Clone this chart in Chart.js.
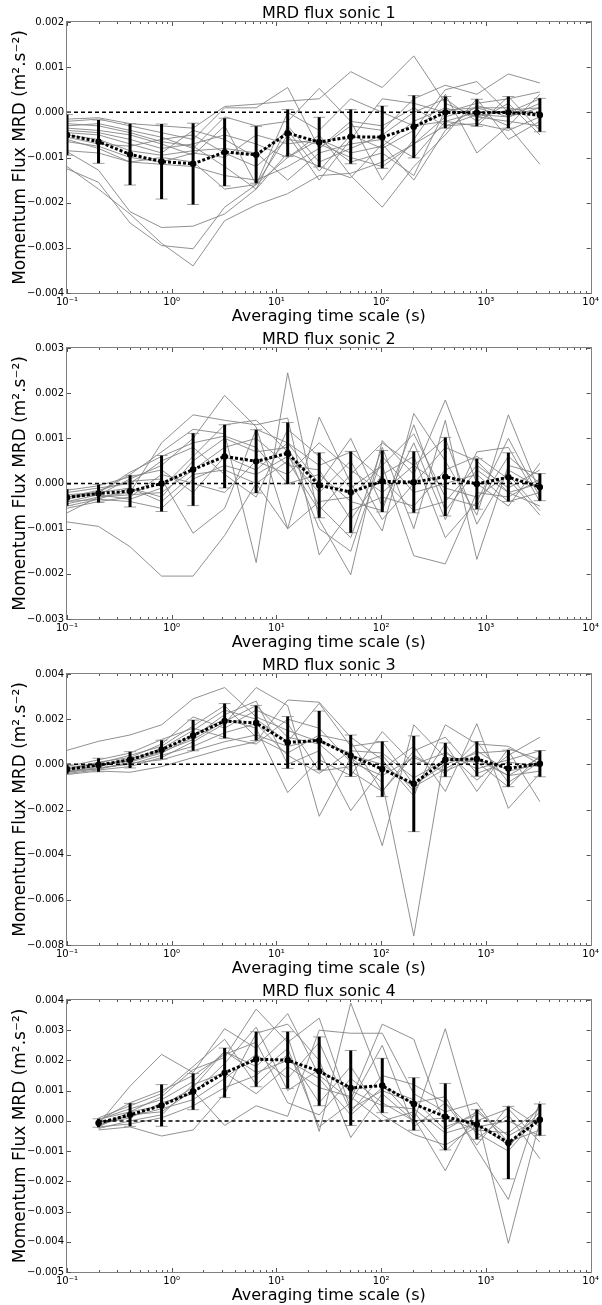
<!DOCTYPE html>
<html>
<head>
<meta charset="utf-8">
<title>MRD flux sonics</title>
<script src="https://cdn.jsdelivr.net/npm/chart.js@4.4.0/dist/chart.umd.min.js"></script>
<style>
  html, body { margin: 0; padding: 0; background: #fff; }
  canvas { display: block; }
</style>
</head>
<body>
<canvas id="sonic1" width="602" height="326"></canvas>
<canvas id="sonic2" width="602" height="326"></canvas>
<canvas id="sonic3" width="602" height="326"></canvas>
<canvas id="sonic4" width="602" height="327"></canvas>
<script>
// averaging time scales (s), shared by all four sonics
const timeScales = [0.1, 0.2, 0.4, 0.8, 1.6, 3.2, 6.4, 12.8, 25.6, 51.2, 102.4, 204.8, 409.6, 819.2, 1638.4, 3276.8];

const xTickValues = [0.1, 1, 10, 100, 1000, 10000];
const xTickLabels = ["10⁻¹", "10⁰", "10¹", "10²", "10³", "10⁴"];

// ---- sonic 1 ----
const yTicks1 = [-0.004, -0.003, -0.002, -0.001, 0, 0.001, 0.002];
const mean1 = [-0.0005, -0.00065, -0.00093, -0.00109, -0.00114, -0.00088, -0.00094, -0.00046, -0.00066, -0.00054, -0.00055, -0.00032, 0, -0.00001, 0, -0.00006];
const std1 = [0.00045, 0.00048, 0.00068, 0.00083, 0.0009, 0.00075, 0.00063, 0.00052, 0.00055, 0.0006, 0.00069, 0.00069, 0.00035, 0.0003, 0.00035, 0.00037];
const runs1 = [
  [-0.0012, -0.0017, -0.00225, -0.0029, -0.0034, -0.0024, -0.00205, -0.0018, -0.0014, -0.00135, -0.0011, -0.0007, -0.0003, -0.00025, -0.0004, -0.0001],
  [-0.00125, -0.00155, -0.00245, -0.00295, -0.00302, -0.0021, -0.0016, -0.001, -0.0006, -0.0009, -0.00075, -0.0002, 0.0001, -0.0001, -0.0002, -0.0003],
  [-0.00087, -0.00128, -0.0022, -0.00255, -0.00252, -0.00225, -0.0017, -0.0009, -0.0012, -0.00145, -0.0007, -0.0015, -0.0004, 0.00015, -0.00005, 0],
  [-0.00015, -0.00012, -0.00025, -0.0003, -0.00035, 0.00013, 0.00018, 0.00025, 0.0003, 0.0009, 0.00055, 0.00125, 0.0002, -0.0001, 0.00005, 0.0001],
  [-0.0002, -0.00015, -0.0003, -0.00045, -0.0006, 0.0001, 0.0001, 0.00055, -0.0008, -0.0003, -0.0004, 0.0003, 0.0006, 0.0004, 0.00085, 0.00065],
  [-0.0003, -0.00025, -0.0004, -0.00055, -0.0008, -0.0001, -0.0003, -0.0002, 0.00053, -0.0002, -0.0015, -0.0006, 0.0004, -0.0009, -0.0003, -0.00115],
  [-0.00035, -0.0004, -0.0005, -0.0007, -0.00095, -0.0003, -0.0016, -0.0005, -0.0015, -0.0006, 0.0003, 0.0002, 0, 0.0002, 0.0003, 0.00045],
  [-0.0004, -0.00045, -0.0006, -0.0008, -0.0007, -0.0005, -0.0007, -0.001, -0.0005, -0.0014, -0.0021, -0.0012, -0.0005, 0.0003, -0.0006, -0.0002],
  [-0.00045, -0.0005, -0.0007, -0.0009, -0.0004, -0.0006, -0.001, -0.0004, -0.0013, -0.0005, -0.0008, -0.0004, 0.0005, 0.00068, 0, 0.0003],
  [-0.0005, -0.0006, -0.00085, -0.00095, -0.00085, -0.0008, -0.0009, -0.0015, -0.0009, -0.0007, -0.0006, -0.001, -0.0002, -0.0003, 0.00035, -0.0004],
  [-0.00055, -0.0007, -0.00075, -0.0006, -0.0005, -0.0009, -0.0012, -0.0006, -0.0007, -0.001, -0.0012, -0.0007, -0.0001, 0.0001, -0.0001, 0.0001],
  [-0.00025, -0.0003, -0.00045, -0.00065, -0.00075, -0.0012, -0.0017, -0.0003, -0.0011, -0.0008, -0.0005, 0, 0.0003, -0.0002, 0.0002, -0.0005],
  [-0.0006, -0.0008, -0.0011, -0.001, -0.0011, -0.0017, -0.0016, 0, -0.0004, 0.0003, 0, -0.0003, -0.0002, 0, -0.0003, 0.0004],
  [-0.00065, -0.00075, -0.001, -0.0011, -0.0009, -0.001, -0.0005, -0.0007, -0.0006, -0.0011, -0.0009, -0.0014, 0.00005, 0.0001, 0.0001, -0.00005],
  [-0.00085, -0.0009, -0.0011, -0.00115, -0.0012, -0.0014, -0.0015, -0.0012, -0.0008, -0.0002, -0.0003, 0.0001, -0.0003, -0.00005, -0.0001, 0.0002]
];

// ---- sonic 2 ----
const yTicks2 = [-0.003, -0.002, -0.001, 0, 0.001, 0.002, 0.003];
const mean2 = [-0.00031, -0.00022, -0.00017, 0, 0.00031, 0.0006, 0.00049, 0.00067, -0.00004, -0.00019, 0.00005, 0.00003, 0.00015, -0.00001, 0.00014, -0.00008];
const std2 = [0.00018, 0.0002, 0.00035, 0.00062, 0.0008, 0.0007, 0.0007, 0.00068, 0.00072, 0.0009, 0.00068, 0.00068, 0.00087, 0.00056, 0.00054, 0.0003];
const runs2 = [
  [-0.00085, -0.00095, -0.0014, -0.00205, -0.00205, -0.00115, 0, -0.001, -0.0004, -0.0003, 0.0004, -0.0016, -0.00178, -0.0002, -0.0003, 0.0001],
  [-0.00065, -0.0003, -0.0002, 0.0009, 0.00152, 0.0014, 0.0013, 0.00145, -0.00158, -0.0006, -0.0003, -0.0005, 0.0003, 0.0006, 0.0001, -0.0007],
  [-0.0004, -0.00025, 0.0001, 0.0004, 0.001, 0.00195, 0.00125, -0.001, 0.00147, 0, -0.00105, 0.00155, 0.0005, -0.0007, 0.00152, -0.0002],
  [-0.00035, -0.0002, 0.0002, 0.0007, 0.0012, 0.0011, -0.00175, 0.00245, -0.0008, -0.00202, 0.00095, 0.0002, 0.00185, 0, -0.0005, 0.00045],
  [-0.0003, -0.00015, 0.00005, 0.0001, -0.0011, -0.00055, 0.0012, 0.0009, 0, 0.001, -0.0005, 0.0009, -0.0008, 0.0007, 0.0008, -0.0004],
  [-0.00025, -0.0002, -0.0001, -0.0003, 0.0005, 0.001, 0.0007, 0.0008, -0.0005, -0.0012, 0.0008, -0.001, 0.0014, -0.00168, 0.0004, 0.0002],
  [-0.00045, -0.0003, -0.00025, -0.0002, 0.0003, 0.0008, 0.001, 0.0004, 0.0003, -0.0008, 0.0002, 0.0006, -0.0012, -0.0004, 0.001, -0.0003],
  [-0.0005, -0.00035, -0.0004, -0.00055, 0.0001, 0.0004, 0.0002, 0.0006, -0.0002, 0.0005, -0.0008, 0, 0.0008, 0.0005, -0.0002, -0.0005],
  [-0.0002, -0.0001, 0, 0.0005, 0.0008, 0.0002, -0.0003, 0.0012, 0.0006, -0.0001, 0.0004, 0.0011, -0.0003, -0.0005, 0.0006, 0],
  [-0.0003, -0.00025, -0.00035, -0.0001, 0.0006, 0.0013, 0.0014, 0.0007, -0.001, -0.0015, 0.0006, -0.0002, 0, 0.0002, -0.0004, -0.0002],
  [-0.00055, -0.0004, -0.0003, 0.0002, 0, -0.0002, 0.0005, 0.0002, 0.0009, 0.0003, -0.0002, 0.0004, 0.001, -0.0009, 0.0003, -0.0001],
  [-0.00015, -0.00005, 0.00015, 0.0003, -0.0002, 0.0006, 0.0003, 0.0009, 0.0004, 0.0007, 0.0001, -0.0006, -0.0004, 0.0004, -0.0001, 0.0003],
  [-0.0004, -0.00035, -0.0001, -0.0004, 0.0002, 0.0003, 0, 0.0005, -0.0006, 0.0002, 0.0009, 0.0004, -0.0001, -0.0003, 0.0002, -0.0006],
  [-0.0003, -0.0002, 0.00025, 0.0006, 0.0009, 0.00105, 0.0008, 0, 0.0002, -0.0004, -0.0006, 0.0013, -0.0006, 0.0003, -0.0002, 0]
];

// ---- sonic 3 ----
const yTicks3 = [-0.008, -0.006, -0.004, -0.002, 0, 0.002, 0.004];
const mean3 = [-0.00022, -0.00003, 0.0002, 0.00065, 0.00128, 0.00192, 0.00183, 0.00097, 0.00106, 0.00038, -0.00021, -0.00086, 0.0002, 0.00024, -0.00018, 0.00003];
const std3 = [0.0002, 0.0003, 0.00036, 0.00042, 0.00068, 0.00077, 0.00078, 0.00115, 0.0013, 0.00092, 0.00122, 0.00212, 0.00075, 0.00077, 0.00081, 0.00058];
const runs3 = [
  [0.00062, 0.00102, 0.0013, 0.00175, 0.0029, 0.0034, 0.0021, 0.0015, 0.001, 0.0005, -0.0036, 0.00175, 0.0003, 0.0002, -0.0005, 0.0003],
  [-0.00045, -0.0003, -0.00035, -0.0001, 0.0003, 0.0007, 0.001, 0.00285, 0.00275, 0.0012, 0.0002, -0.0014, 0.00175, 0.0009, 0.0008, 0],
  [-0.0004, -0.00025, -0.0001, 0.0003, 0.001, 0.0018, 0.0034, 0.0026, -0.0023, 0.0003, -0.0008, -0.0076, 0.0006, -0.0007, 0.0004, 0.0012],
  [-0.0003, -0.0002, 0.0001, 0.0005, 0.0012, 0.0022, 0.0028, 0, 0.0006, -0.00205, -0.0002, 0.0008, -0.0012, 0.0018, -0.00195, -0.0004],
  [-0.0002, -0.0001, 0.0002, 0.0007, 0.0015, 0.0024, 0.002, 0.001, 0.0027, 0.0008, 0.001, -0.0009, 0, 0.0005, 0.0006, -0.00165],
  [-0.00035, -0.00005, 0.00025, 0.0006, 0.0013, 0.002, 0.0016, -0.00125, 0.0002, -0.0005, 0.00145, 0, 0.0005, -0.0002, 0.0002, 0.0006],
  [-0.00015, 0.00005, 0.0004, 0.0008, 0.0017, 0.0026, 0.0012, 0.0005, 0.0013, 0.001, -0.0012, 0.0004, -0.0004, 0.001, -0.0008, 0.0001],
  [-0.00025, 0.0001, 0.0003, 0.0009, 0.0021, 0.0016, 0.0024, 0.0018, -0.0003, -0.0001, 0.0004, -0.0012, 0.0009, -0.0012, 0.0007, 0.0002],
  [-0.0001, 0.0002, 0.0005, 0.0011, 0.0016, 0.0012, 0.0009, 0.002, 0.0016, 0.0001, -0.0005, 0.0003, -0.0003, 0.0003, -0.0005, -0.0003],
  [-0.0003, -0.00015, 0, 0.0004, 0.0008, 0.0014, 0.0018, 0.0004, -0.0004, 0.0006, 0.0005, -0.0006, 0.0002, 0.0001, -0.001, 0.0004],
  [-0.0002, 0, 0.00015, 0.00055, 0.0011, 0.0019, 0.0026, 0.0012, 0.0009, -0.0003, -0.0012, 0.0006, 0.0012, -0.0004, 0.0001, -0.0001],
  [-0.00035, -0.0002, 0.00005, 0.0002, 0.0006, 0.001, 0.0013, 0.0008, 0.0011, 0.0004, 0, -0.001, -0.0002, 0.0006, -0.0003, 0]
];

// ---- sonic 4 (no value at 0.1 s) ----
const yTicks4 = [-0.005, -0.004, -0.003, -0.002, -0.001, 0, 0.001, 0.002, 0.003, 0.004];
const mean4 = [null, -0.00007, 0.0002, 0.00051, 0.00097, 0.00159, 0.00204, 0.00201, 0.00164, 0.00109, 0.00117, 0.00056, 0.00014, -0.00012, -0.00072, 0.00004];
const std4 = [null, 0.00014, 0.00038, 0.00069, 0.0006, 0.00082, 0.00091, 0.00094, 0.00114, 0.00124, 0.0009, 0.00087, 0.0011, 0.00049, 0.0012, 0.00052];
const runs4 = [
  [null, -0.0001, 0.00115, 0.0022, 0.0016, 0.00305, 0.0024, 0.00355, 0.0015, 0.0007, 0.0032, 0.0027, -0.0002, 0.0002, -0.00405, 0],
  [null, -0.0002, 0.0003, 0.0008, 0.0017, 0.0021, 0.0037, 0.0026, 0.0034, 0.0004, 0.001, 0.0006, 0.0008, -0.00095, -0.0026, 0.00065],
  [null, 0.00005, 0.0004, 0.0007, 0.0013, 0.0023, 0.0018, 0.0028, -0.00035, 0.0039, 0.0012, 0.0001, -0.00165, 0.0004, -0.0007, -0.0003],
  [null, -0.0003, -0.0002, -0.0005, -0.0003, 0.0009, 0.0029, 0.0032, 0.002, -0.00055, 0.0009, 0, 0.00305, -0.0006, 0.0002, -0.00125],
  [null, -0.00015, 0.0002, 0.0003, 0.001, -0.00015, 0.0005, 0.00015, 0.003, 0.0029, 0.0029, 0.0009, 0.0003, 0.0006, -0.0009, 0.0005],
  [null, 0.0001, 0.0005, 0.0009, 0.0018, 0.0027, 0.0012, 0.0022, 0.0006, 0.0018, 0.0002, -0.00045, -0.0008, -0.0002, 0, -0.0005],
  [null, -0.00005, 0.00015, 0.0004, 0.0007, 0.0014, 0.0022, 0.0014, 0.0026, 0.0003, 0.0015, 0.0012, 0.0006, -0.0004, -0.001, 0.0002],
  [null, -0.00025, 0, 0.0002, 0.0012, 0.0016, 0.0009, 0.0018, 0.0011, 0.0008, 0, 0.0003, -0.001, 0, 0.0004, -0.0007],
  [null, 0, 0.0006, 0.001, 0.0015, 0.0022, 0.0026, 0.0006, 0.0002, 0.0014, 0.0006, 0, 0.0001, -0.0003, -0.0004, 0.0004],
  [null, -0.0001, 0.0001, 0.0006, 0.0009, 0.0019, 0.0031, 0.001, 0.0017, 0.001, 0.0005, 0.0004, -0.0004, -0.0001, -0.0008, 0.0003],
  [null, -0.0002, -0.0001, 0.0001, 0.0005, 0.0011, 0.0015, 0.0024, -0.0002, 0.0006, 0.0025, -0.0002, 0.0006, -0.0008, 0.0005, -0.0002],
  [null, 0.00005, 0.0003, 0.0005, 0.0011, 0.0023, 0.0016, 0.002, 0.0014, 0.0002, 0.0011, 0.0007, -0.0003, 0.0003, -0.0005, 0.0001]
];

const FONT = "'DejaVu Sans', sans-serif";

function fmtY(v) {
  const s = Math.abs(v).toFixed(3);
  return v < -1e-12 ? "\u2212" + s : s;
}

// vertical error bars (mean +/- std) drawn right before the mean line
function errorBars(mean, std) {
  return {
    id: "errorBars",
    afterDatasetDraw(chart, args) {
      if (args.index !== 1) return;
      const { ctx, chartArea: a, scales: { x, y } } = chart;
      ctx.save();
      ctx.beginPath();
      ctx.rect(a.left, a.top, a.right - a.left, a.bottom - a.top);
      ctx.clip();
      mean.forEach((m, i) => {
        if (m === null) return;
        const px = x.getPixelForValue(timeScales[i]);
        const top = y.getPixelForValue(m + std[i]);
        const bot = y.getPixelForValue(m - std[i]);
        ctx.strokeStyle = "#a0a0a0";
        ctx.lineWidth = 1;
        ctx.beginPath();
        ctx.moveTo(px - 6, top); ctx.lineTo(px + 6, top);
        ctx.moveTo(px - 6, bot); ctx.lineTo(px + 6, bot);
        ctx.stroke();
        ctx.strokeStyle = "#000";
        ctx.lineWidth = 3;
        ctx.beginPath();
        ctx.moveTo(px, top); ctx.lineTo(px, bot);
        ctx.stroke();
      });
      ctx.restore();
    }
  };
}

// axes frame with small inward ticks, matplotlib style
const frameTicks = {
  id: "frameTicks",
  afterDraw(chart) {
    const { ctx, chartArea: a, scales: { x, y } } = chart;
    ctx.save();
    ctx.strokeStyle = "#808080";
    ctx.lineWidth = 1;
    ctx.strokeRect(Math.round(a.left) - 0.5, Math.round(a.top) - 0.5, Math.round(a.right - a.left) + 1, Math.round(a.bottom - a.top) + 1);
    ctx.strokeStyle = "#555";
    ctx.beginPath();
    for (let d = 0.1; d < 10000; d *= 10) {
      for (let k = 1; k < 10; k++) {
        const px = Math.round(x.getPixelForValue(d * k)) + 0.5;
        const len = k === 1 ? 4 : 2;
        ctx.moveTo(px, a.bottom); ctx.lineTo(px, a.bottom - len);
        ctx.moveTo(px, a.top); ctx.lineTo(px, a.top + len);
      }
    }
    y.ticks.forEach(t => {
      const py = Math.round(y.getPixelForValue(t.value)) + 0.5;
      ctx.moveTo(a.left, py); ctx.lineTo(a.left + 4, py);
      ctx.moveTo(a.right, py); ctx.lineTo(a.right - 4, py);
    });
    ctx.stroke();
    ctx.restore();
  }
};

function buildChart(id, title, yTicks, mean, std, runs) {
  const pts = arr => timeScales.map((x, i) => ({ x: x, y: arr[i] })).filter(p => p.y !== null);
  const datasets = [
    { data: pts(mean), borderColor: "#000", borderWidth: 3, borderDash: [3, 2],
      pointRadius: 3.2, pointBackgroundColor: "#000", pointBorderWidth: 0 },
    { data: pts(mean.map(v => (v === null ? null : 0))), borderColor: "#000", borderWidth: 1.5,
      borderDash: [4, 3], pointRadius: 0 }
  ];
  runs.forEach(r => {
    datasets.push({ data: pts(r), borderColor: "#858585", borderWidth: 0.9, pointRadius: 0 });
  });

  new Chart(document.getElementById(id), {
    type: "line",
    data: { datasets: datasets },
    options: {
      responsive: false,
      animation: false,
      devicePixelRatio: 1,
      events: [],
      layout: { padding: { top: 0, right: 9, bottom: 0, left: 0 } },
      elements: { line: { tension: 0 } },
      plugins: {
        legend: { display: false },
        tooltip: { enabled: false },
        title: {
          display: true, text: title, color: "#000", fullSize: false,
          font: { family: FONT, size: 16, weight: "normal", lineHeight: 1 },
          padding: { top: 6, bottom: 0 }
        }
      },
      scales: {
        x: {
          type: "logarithmic", min: 0.1, max: 10000,
          grid: { display: false, drawTicks: false },
          border: { display: false },
          afterBuildTicks: ax => { ax.ticks = xTickValues.map(v => ({ value: v })); },
          afterFit: ax => { ax.height = 33; },
          ticks: {
            autoSkip: false, maxRotation: 0, padding: 3, color: "#000",
            font: { family: FONT, size: 10 },
            callback: v => xTickLabels[xTickValues.indexOf(v)]
          },
          title: {
            display: true, text: "Averaging time scale (s)", color: "#000",
            font: { family: FONT, size: 16 }, padding: { top: 0, bottom: 0 }
          }
        },
        y: {
          min: yTicks[0], max: yTicks[yTicks.length - 1],
          grid: { display: false, drawTicks: false },
          border: { display: false },
          afterBuildTicks: ax => { ax.ticks = yTicks.map(v => ({ value: v })); },
          afterFit: ax => { ax.width = 67; },
          ticks: {
            padding: 3, color: "#000", font: { family: FONT, size: 10 },
            callback: v => fmtY(v)
          },
          title: {
            display: true, text: "Momentum Flux MRD (m\u00b2.s\u207b\u00b2)", color: "#000",
            font: { family: FONT, size: 17 }, padding: { top: 10, bottom: 0 }
          }
        }
      }
    },
    plugins: [errorBars(mean, std), frameTicks]
  });
}

document.addEventListener("DOMContentLoaded", function () {
  buildChart("sonic1", "MRD flux sonic 1", yTicks1, mean1, std1, runs1);
  buildChart("sonic2", "MRD flux sonic 2", yTicks2, mean2, std2, runs2);
  buildChart("sonic3", "MRD flux sonic 3", yTicks3, mean3, std3, runs3);
  buildChart("sonic4", "MRD flux sonic 4", yTicks4, mean4, std4, runs4);
});
</script>
</body>
</html>
